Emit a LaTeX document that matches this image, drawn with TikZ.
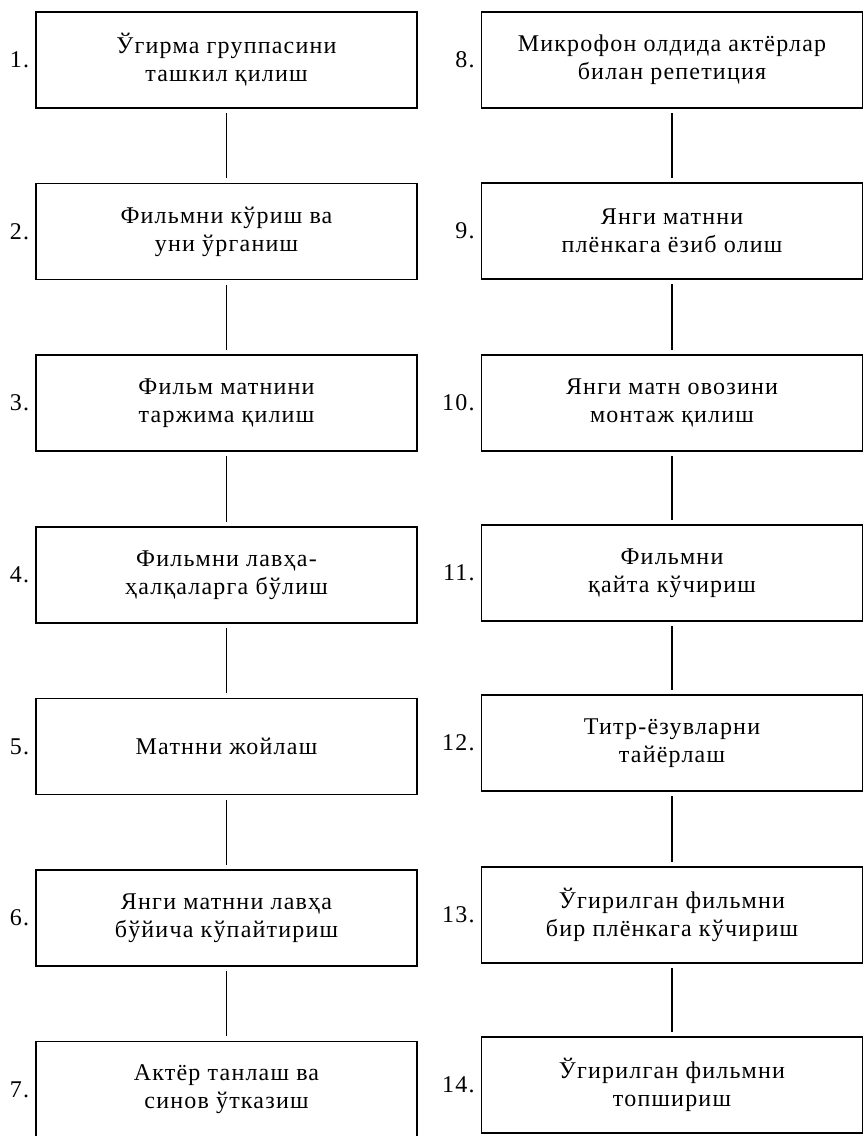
\documentclass[tikz,border=0pt]{standalone}
\usepackage{fontspec}
\setmainfont{Liberation Serif}[LetterSpace=5]
\tikzset{
  stepbox/.style={draw, line width=1pt, rectangle, minimum width=285.75pt, minimum height=72pt, align=center, inner sep=0pt, font=\fontsize{18}{21}\selectfont},
  numlabel/.style={anchor=east, inner sep=0pt, font=\fontsize{18}{21}\selectfont},
  link/.style={line width=1pt, shorten <=3.5pt, shorten >=3.5pt}
}
\begin{document}
\begin{tikzpicture}[x=0.75pt,y=0.75pt,yscale=-1,xscale=1]
	\path[use as bounding box] (0,0) rectangle (868,1136);

	%Shape: Rectangle (left column)
	\node [stepbox] (s1) at (226.5,60) {Ўгирма группасини\\ташкил қилиш};
	\node [stepbox] (s2) at (226.5,231.5) {Фильмни кўриш ва\\уни ўрганиш};
	\node [stepbox] (s3) at (226.5,403) {Фильм матнини\\таржима қилиш};
	\node [stepbox] (s4) at (226.5,575) {Фильмни лавҳа-\\ҳалқаларга бўлиш};
	\node [stepbox] (s5) at (226.5,746.5) {Матнни жойлаш};
	\node [stepbox] (s6) at (226.5,918) {Янги матнни лавҳа\\бўйича кўпайтириш};
	\node [stepbox] (s7) at (226.5,1089.5) {Актёр танлаш ва\\синов ўтказиш};

	%Shape: Rectangle (right column)
	\node [stepbox] (s8) at (672,60) {Микрофон олдида актёрлар\\билан репетиция};
	\node [stepbox] (s9) at (672,231) {Янги матнни\\плёнкага ёзиб олиш};
	\node [stepbox] (s10) at (672,403) {Янги матн овозини\\монтаж қилиш};
	\node [stepbox] (s11) at (672,573) {Фильмни\\қайта кўчириш};
	\node [stepbox] (s12) at (672,743) {Титр-ёзувларни\\тайёрлаш};
	\node [stepbox] (s13) at (672,915) {Ўгирилган фильмни\\бир плёнкага кўчириш};
	\node [stepbox] (s14) at (672,1085) {Ўгирилган фильмни\\топшириш};

	% Text Node
	\node [numlabel] (n1) at ([xshift=-4.5pt]s1.west) {1.};
	\node [numlabel] (n2) at ([xshift=-4.5pt]s2.west) {2.};
	\node [numlabel] (n3) at ([xshift=-4.5pt]s3.west) {3.};
	\node [numlabel] (n4) at ([xshift=-4.5pt]s4.west) {4.};
	\node [numlabel] (n5) at ([xshift=-4.5pt]s5.west) {5.};
	\node [numlabel] (n6) at ([xshift=-4.5pt]s6.west) {6.};
	\node [numlabel] (n7) at ([xshift=-4.5pt]s7.west) {7.};
	\node [numlabel] (n8) at ([xshift=-4.5pt]s8.west) {8.};
	\node [numlabel] (n9) at ([xshift=-4.5pt]s9.west) {9.};
	\node [numlabel] (n10) at ([xshift=-4.5pt]s10.west) {10.};
	\node [numlabel] (n11) at ([xshift=-4.5pt]s11.west) {11.};
	\node [numlabel] (n12) at ([xshift=-4.5pt]s12.west) {12.};
	\node [numlabel] (n13) at ([xshift=-4.5pt]s13.west) {13.};
	\node [numlabel] (n14) at ([xshift=-4.5pt]s14.west) {14.};

	%Straight Lines
	\draw [link] (s1) -- (s2);
	\draw [link] (s2) -- (s3);
	\draw [link] (s3) -- (s4);
	\draw [link] (s4) -- (s5);
	\draw [link] (s5) -- (s6);
	\draw [link] (s6) -- (s7);
	\draw [link] (s8) -- (s9);
	\draw [link] (s9) -- (s10);
	\draw [link] (s10) -- (s11);
	\draw [link] (s11) -- (s12);
	\draw [link] (s12) -- (s13);
	\draw [link] (s13) -- (s14);

\end{tikzpicture}
\end{document}
